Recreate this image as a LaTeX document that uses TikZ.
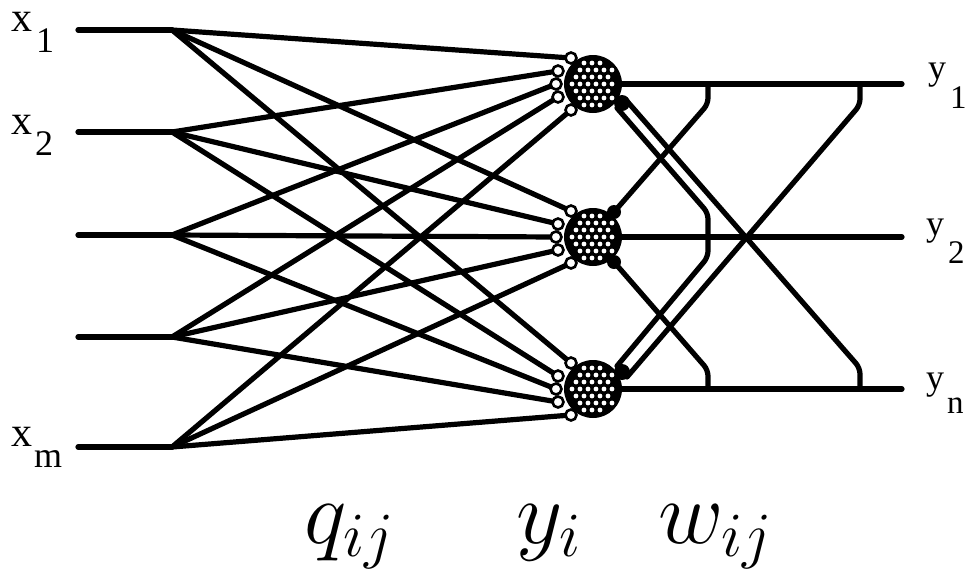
\RequirePackage{fix-cm}
\documentclass[tikz,border=0pt]{standalone}
\usepackage{fontspec}
\newfontfamily\lblfont{Liberation Serif}
\usetikzlibrary{calc}
\begin{document}
\begin{tikzpicture}[x=1pt,y=-1pt,
  wire/.style={line width=5.2pt,line cap=round,line join=round},
  fb/.style={line width=5.2pt,line cap=round,line join=round,rounded corners=6pt},
  incirc/.style={draw=black,fill=white,line width=2.6pt},
  lbl/.style={font=\lblfont\fontsize{42}{42}\selectfont,inner sep=0pt,anchor=base west},
  sub/.style={font=\lblfont\fontsize{36}{36}\selectfont,inner sep=0pt,anchor=base west},
  osub/.style={font=\lblfont\fontsize{33}{33}\selectfont,inner sep=0pt,anchor=base west},
  ylbl/.style={font=\lblfont\fontsize{36}{36}\selectfont,inner sep=0pt,anchor=base west},
  big/.style={font=\fontsize{90}{96}\selectfont,inner sep=0pt,anchor=base}]
\useasboundingbox (0,0) rectangle (972,576);
% inputs
\foreach \y [count=\i] in {30,132,235,337,447}{
  \coordinate (x\i) at (78,\y);
  \coordinate (b\i) at (172,\y);
}
% neurons
\foreach \c [count=\k] in {84,237,389}{
  \coordinate (N\k) at (593,\c);
  \coordinate (n\k-1) at (571,\c-26);
  \coordinate (n\k-2) at (558,\c-13);
  \coordinate (n\k-3) at (556,\c);
  \coordinate (n\k-4) at (558,\c+13);
  \coordinate (n\k-5) at (571,\c+26);
  \coordinate (o\k) at (618,\c);
  \coordinate (e\k) at (902,\c);
}
% input wires
\foreach \i in {1,...,5}{
  \draw[wire] (x\i) -- (b\i);
  \foreach \k in {1,2,3}{
    \draw[wire] (b\i) -- (n\k-\i);
  }
}
% output wires
\foreach \k in {1,2,3}{
  \draw[wire] (o\k) -- (e\k);
}
% feedback junction points
\coordinate (j1a) at (708,84);   \coordinate (j1b) at (860,84);
\coordinate (j2)  at (708,237);
\coordinate (j3a) at (708,389);  \coordinate (j3b) at (860,389);
\coordinate (a12) at (614,212);
\coordinate (a13) at (627,377);
\coordinate (a31) at (626,100);
\coordinate (a32) at (614,262);
\coordinate (a21) at (617,108);
\coordinate (a23) at (617,366);
\draw[fb] (j1a) -- (708,104) -- (a12);
\draw[fb] (j1b) -- (860,105) -- (a13);
\draw[fb] (j3b) -- (860,368) -- (a31);
\draw[fb] (j3a) -- (708,370) -- (a32);
\draw[fb] (j2) -- (708,213) -- (a21);
\draw[fb] (j2) -- (708,257) -- (a23);
% neuron bodies
\foreach \c [count=\k] in {84,237,389}{
  \fill (593,\c) circle[radius=29pt];
  \foreach \dy [count=\r] in {-21,-14,...,21}{
    \foreach \dx in {-21,-13,...,21}{
      \pgfmathsetmacro\xx{\dx+mod(\r,2)*4}
      \pgfmathsetmacro\dd{sqrt(\xx*\xx+\dy*\dy)}
      \ifdim\dd pt<24pt
        \fill[white] (593+\xx,\c+\dy) circle[radius=2.4pt];
      \fi
    }
  }
  \foreach \i in {1,...,5}{
    \draw[incirc] (n\k-\i) circle[radius=5.5pt];
  }
}
% attachment blobs
\fill (a12) circle[radius=7pt];
\fill (a32) circle[radius=7pt];
\fill (622,103) circle[radius=8pt];
\fill (622,372) circle[radius=8pt];
% input labels
\node[lbl] (lx1) at (11,31) {x};
\node[sub] (lx1s) at (36,52) {1};
\node[lbl] (lx2) at (11,134) {x};
\node[sub] (lx2s) at (35,155) {2};
\node[lbl] (lxm) at (11,446) {x};
\node[sub] (lxms) at (34,467) {m};
% output labels
\node[ylbl] (ly1) at (928,79) {y};
\node[osub] (ly1s) at (950,108) {1};
\node[ylbl] (ly2) at (926,235) {y};
\node[osub] (ly2s) at (948,263) {2};
\node[ylbl] (lyn) at (926,389) {y};
\node[osub] (lyns) at (947,413) {n};
% bottom labels
\node[big] (q) at (349,543) {$q_{ij}$};
\node[big] (yi) at (549,543) {$y_i$};
\node[big] (w) at (715,543) {$w_{ij}$};
\end{tikzpicture}
\end{document}
